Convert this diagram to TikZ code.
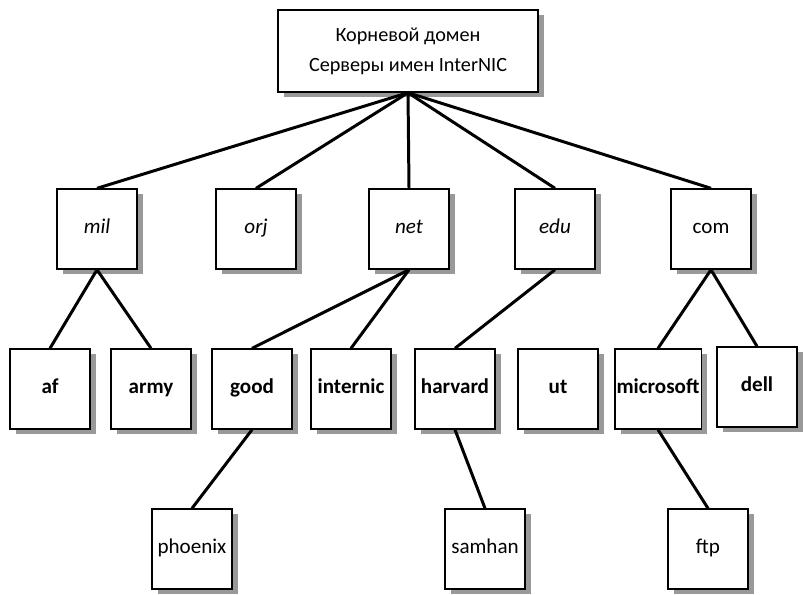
\documentclass[tikz,border=0pt]{standalone}
\usepackage{fontspec}
\setmainfont{Carlito}
\usetikzlibrary{positioning, shadows}
\tikzset{%
  % Specifications for style of nodes:
            base/.style = {rectangle, draw=black, line width=0.8pt, fill=white,
                            minimum width=1.6cm, minimum height=1.6cm, inner sep=1pt,
                            text height=0.72em, text depth=0.22em,
                            drop shadow={shadow xshift=0.12cm, shadow yshift=-0.1cm,
                            fill=black!40, opacity=1},
                            font=\fontsize{12}{14}\selectfont},
            zone/.style = {base, font=\fontsize{12}{14}\selectfont\itshape},
            host/.style = {base, font=\fontsize{12}{14}\selectfont\bfseries},
            link/.style = {line width=1.7pt}
}
\begin{document}
\begin{tikzpicture}[node distance=3.2cm, every node/.style={base}, align=center]
                \useasboundingbox (0,0) rectangle (16.06,-11.88);

                \node[minimum width=5.2cm, minimum height=1.64cm, text height=, text depth=,
                      font=\fontsize{11.5}{17}\selectfont] (root) at (8.16,-1.02)
                      {Корневой домен\\Серверы имен InterNIC};

                % top level domains
                \node[zone] (mil) at (1.94,-4.58) {mil};
                \node[zone] (orj) at (5.12,-4.58) {orj};
                \node[zone] (net) at (8.18,-4.58) {net};
                \node[zone] (edu) at (11.1,-4.58) {edu};
                \node (com) at (14.22,-4.58) {com};
                \draw[link] (root.south) -- (mil.north);
                \draw[link] (root.south) -- (orj.north);
                \draw[link] (root.south) -- (net.north);
                \draw[link] (root.south) -- (edu.north);
                \draw[link] (root.south) -- (com.north);

                \node[host, below of=mil, xshift=-0.94cm] (af) {af};
                \node[host, below of=mil, xshift=1.08cm] (army) {army};
                \node[host, below of=net, xshift=-3.14cm] (good) {good};
                \node[host, below of=net, xshift=-1.16cm] (internic) {internic};
                \node[host, below of=edu, xshift=-2cm] (harvard) {harvard};
                \node[host, below of=edu, xshift=0.06cm] (ut) {ut};
                \node[host, below of=com, xshift=-1.06cm] (microsoft) {microsoft};
                \node[host, below of=com, xshift=0.92cm, yshift=0.04cm] (dell) {dell};
                \draw[link] (mil.south) -- (af.north);
                \draw[link] (mil.south) -- (army.north);
                \draw[link] (net.south) -- (good.north);
                \draw[link] (net.south) -- (internic.north);
                \draw[link] (edu.south) -- (harvard.north);
                \draw[link] (com.south) -- (microsoft.north);
                \draw[link] (com.south) -- (dell.north);

                \node[below of=good, xshift=-1.2cm] (phoenix) {phoenix};
                \node[below of=harvard, xshift=0.6cm] (samhan) {samhan};
                \node[below of=microsoft, xshift=1cm] (ftp) {ftp};
                \draw[link] (good.south) -- (phoenix.north);
                \draw[link] (harvard.south) -- (samhan.north);
                \draw[link] (microsoft.south) -- (ftp.north);

            \end{tikzpicture}
\end{document}
